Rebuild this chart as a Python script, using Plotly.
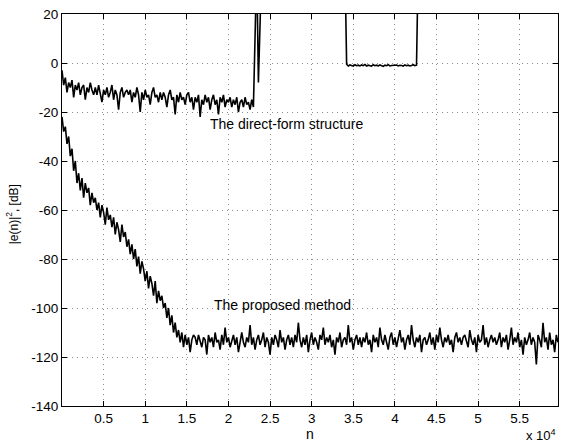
import plotly.graph_objects as go

# sample spacing of the read-off curves
n_step = 200

# |e(n)|^2 in dB, proposed method (n = 0, 200, ..., 59600)
proposed_db = [
    -22, -28, -26, -33, -30, -38, -35, -44, -40, -49, -45, -52, -47, -55, -49, -53, -51, -58, -53, -57,
    -55, -60, -57, -63, -58, -61, -66, -59, -64, -62, -67, -63, -70, -65, -68, -73, -66, -71, -69, -75,
    -72, -78, -74, -80, -76, -83, -79, -86, -81, -84, -89, -85, -92, -87, -90, -95, -89, -98, -93, -97,
    -95, -100, -98, -104, -100, -107, -103, -110, -106, -112, -109, -114, -110, -116, -111, -115, -112, -118, -113, -111,
    -112, -115, -111, -114, -116, -112, -113, -119, -111, -114, -112, -116, -110, -114, -113, -117, -111, -115, -108, -114,
    -112, -116, -113, -111, -115, -112, -118, -113, -110, -114, -116, -112, -114, -107, -115, -112, -117, -113, -111, -115,
    -113, -110, -116, -112, -114, -119, -112, -115, -111, -113, -116, -109, -114, -112, -117, -113, -111, -115, -112, -116,
    -111, -114, -106, -113, -116, -112, -115, -111, -118, -113, -110, -115, -112, -114, -117, -111, -113, -108, -115, -112,
    -114, -111, -116, -113, -119, -112, -114, -110, -116, -113, -112, -115, -107, -114, -112, -117, -113, -111, -115, -112,
    -116, -112, -114, -110, -115, -113, -118, -111, -114, -112, -116, -108, -113, -115, -111, -114, -117, -112, -110, -115,
    -112, -116, -113, -109, -114, -112, -117, -113, -111, -115, -107, -113, -116, -112, -114, -111, -118, -113, -112, -115,
    -113, -110, -115, -112, -117, -111, -114, -108, -113, -116, -112, -114, -111, -115, -113, -118, -112, -110, -114, -112,
    -115, -112, -111, -114, -116, -109, -113, -115, -112, -118, -111, -114, -113, -107, -115, -112, -116, -113, -111, -114,
    -112, -115, -113, -110, -116, -112, -114, -111, -117, -113, -108, -115, -112, -114, -110, -116, -113, -119, -112, -115,
    -113, -110, -115, -112, -114, -123, -111, -113, -116, -106, -114, -112, -117, -110, -115, -113, -118, -111, -114,
]

# |e(n)|^2 in dB, direct-form structure (40 = off the top of the axes)
direct_db = [
    -3, -9, -6, -12, -8, -10, -7, -14, -9, -11, -8, -13, -10, -9, -15, -10, -12, -8, -11, -13,
    -10, -13, -9, -12, -16, -11, -13, -10, -14, -12, -9, -15, -11, -13, -19, -12, -10, -14, -12, -11,
    -13, -11, -16, -12, -14, -10, -13, -20, -12, -15, -11, -14, -13, -17, -12, -10, -14, -13, -16, -12,
    -15, -12, -14, -18, -13, -11, -15, -14, -21, -13, -16, -12, -15, -14, -17, -13, -12, -16, -14, -19,
    -14, -16, -13, -22, -15, -17, -13, -16, -14, -19, -15, -13, -17, -15, -21, -14, -16, -13, -18, -15,
    -16, -14, -18, -15, -17, -14, -20, -16, -15, -18, -14, -17, -16, -19, -15, -18, 40, 40, -8, 40,
    40, 40, 40, 40, 40, 40, 40, 40, 40, 40, 40, 40, 40, 40, 40, 40, 40, 40, 40, 40,
    40, 40, 40, 40, 40, 40, 40, 40, 40, 40, 40, 40, 40, 40, 40, 40, 40, 40, 40, 40,
    40, 40, 40, 40, 40, 40, 40, 40, 40, 40, 40, -0.5, -1.2, -0.8, -1.0, -1.3, -0.7, -1.1, -0.9, -1.2,
    -0.8, -1.1, -0.6, -1.2, -0.9, -1.0, -1.3, -0.7, -1.1, -0.9, -1.2, -0.8, -1.0, -1.4, -0.9, -1.1, -0.7, -1.2, -1.0, -0.9,
    -1.1, -0.8, -1.2, -0.9, -1.0, -1.3, -0.8, -1.1, -0.9, -1.2, -1.0, -0.7, -1.1, -0.9, 40, 40, 40, 40, 40, 40,
    40, 40, 40, 40, 40, 40, 40, 40, 40, 40, 40, 40, 40, 40, 40, 40, 40, 40, 40, 40,
    40, 40, 40, 40, 40, 40, 40, 40, 40, 40, 40, 40, 40, 40, 40, 40, 40, 40, 40, 40,
    40, 40, 40, 40, 40, 40, 40, 40, 40, 40, 40, 40, 40, 40, 40, 40, 40, 40, 40, 40,
    40, 40, 40, 40, 40, 40, 40, 40, 40, 40, 40, 40, 40, 40, 40, 40, 40, 40, 40,
]

x_tickvals = [5000, 10000, 15000, 20000, 25000, 30000, 35000, 40000, 45000, 50000, 55000]
x_ticktext = ["0.5", "1", "1.5", "2", "2.5", "3", "3.5", "4", "4.5", "5", "5.5"]
y_tickvals = [-140, -120, -100, -80, -60, -40, -20, 0, 20]
y_ticktext = ["-140", "-120", "-100", "-80", "-60", "-40", "-20", "0", "20"]

n_proposed = [i * n_step for i in range(len(proposed_db))]
n_direct = [i * n_step for i in range(len(direct_db))]

FONT = "Liberation Sans, Arial, Helvetica, sans-serif"

fig = go.Figure()
fig.add_trace(go.Scatter(x=n_direct, y=direct_db, mode="lines",
                         line=dict(color="black", width=1.6), showlegend=False))
fig.add_trace(go.Scatter(x=n_proposed, y=proposed_db, mode="lines",
                         line=dict(color="black", width=1.6), showlegend=False))

axis_common = dict(showline=True, linecolor="black", linewidth=1, mirror="allticks",
                   ticks="inside", ticklen=5, tickcolor="black",
                   showgrid=True, gridcolor="#8c8c8c", gridwidth=1, griddash="1px,4px",
                   zeroline=False, ticklabeloverflow="allow",
                   tickfont=dict(family=FONT, size=13.5, color="black"))

fig.update_xaxes(range=[0, 59600], tickmode="array", tickvals=x_tickvals,
                 ticktext=x_ticktext, **axis_common)
fig.update_yaxes(range=[-140, 20], tickmode="array", tickvals=y_tickvals,
                 ticktext=y_ticktext, **axis_common)

fig.add_annotation(x=17550, y=-25, text="The direct-form structure", showarrow=False,
                   xanchor="left", yanchor="middle", font=dict(family=FONT, size=14, color="black"))
fig.add_annotation(x=18050, y=-98.8, text="The proposed method", showarrow=False,
                   xanchor="left", yanchor="middle", font=dict(family=FONT, size=14, color="black"))
fig.add_annotation(xref="paper", yref="paper", x=0.5, y=-0.072, text="n", showarrow=False,
                   xanchor="center", yanchor="middle", font=dict(family=FONT, size=14, color="black"))
fig.add_annotation(xref="paper", yref="paper", x=1.0, y=-0.074, text="x 10<sup>4</sup>",
                   showarrow=False, xanchor="right", yanchor="middle",
                   font=dict(family=FONT, size=13, color="black"))
fig.add_annotation(xref="paper", yref="paper", x=-0.1, y=0.49, text="|e(n)|<sup>2</sup>, [dB]",
                   showarrow=False, textangle=-90, xanchor="center", yanchor="middle",
                   font=dict(family=FONT, size=12, color="black"))

fig.update_layout(width=566, height=443, margin=dict(l=62, r=7, t=11, b=37),
                  paper_bgcolor="white", plot_bgcolor="white",
                  font=dict(family=FONT, size=13, color="black"))

# remove the browser's default 8 px body margin so the figure fills the window exactly
fig.write_html("out.html", config={"displayModeBar": False},
               post_script="document.body.style.margin='0';")
